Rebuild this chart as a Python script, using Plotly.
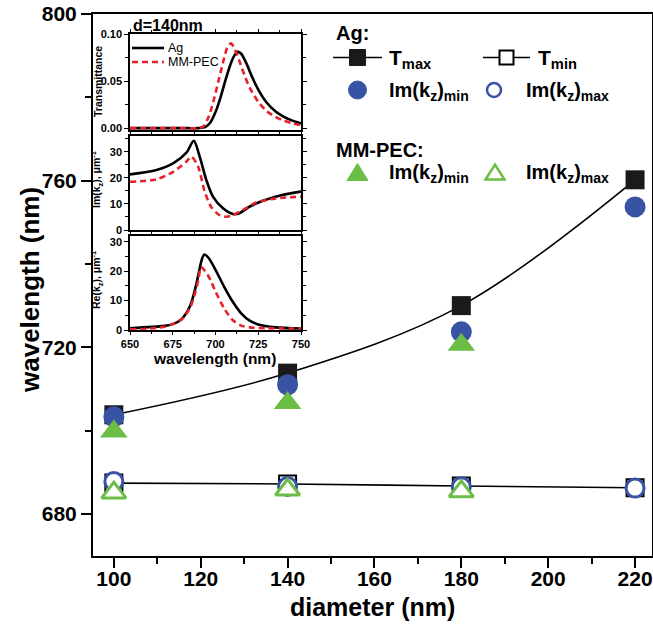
import plotly.graph_objects as go

W, H = 653, 627

# ---------------- main data ----------------
diameters = [100, 140, 180, 220]
ag_tmax = [703.8, 713.8, 730.0, 760.2]
ag_tmin = [687.4, 687.2, 686.7, 686.3]
ag_imk_min = [703.3, 711.0, 723.7, 753.7]
ag_imk_max = [687.8, 686.6, 686.5, 686.2]
pec_diam = [100, 140, 180]
pec_imk_min = [699.8, 706.6, 720.6]
pec_imk_max = [685.1, 685.8, 685.4]

x_ticks = [100, 120, 140, 160, 180, 200, 220]
y_ticks = [680, 720, 760, 800]

# ---------------- inset data (d = 140 nm) ----------------
tr_wl_ag = [650, 660, 670, 680, 690, 694, 697, 700, 703, 706, 709, 711, 713, 715, 718, 721, 725, 730, 735, 740, 745, 750]
tr_ag = [0.0, 0.0, 0.0, 0.0, 0.0, 0.001, 0.006, 0.017, 0.033, 0.052, 0.069, 0.077, 0.081, 0.079, 0.069, 0.056, 0.041, 0.027, 0.018, 0.012, 0.008, 0.005]
tr_wl_pec = [650, 660, 670, 680, 690, 693, 696, 699, 702, 705, 707, 709, 711, 714, 717, 720, 725, 730, 735, 740, 745, 750]
tr_pec = [0.0, 0.0, 0.0, 0.0, 0.0, 0.002, 0.012, 0.030, 0.052, 0.074, 0.086, 0.090, 0.085, 0.071, 0.056, 0.043, 0.028, 0.018, 0.012, 0.008, 0.005, 0.003]

im_wl_ag = [650, 665.5, 675.2, 683, 687.3, 690.8, 694.7, 698.5, 704.4, 710.2, 714, 720, 727.7, 739, 750]
im_ag = [21.3, 23.0, 25.5, 29.6, 34.2, 28.0, 19.0, 12.8, 8.3, 6.1, 6.4, 9.0, 11.2, 13.4, 14.7]
im_wl_pec = [650, 665.5, 675.2, 683, 685.9, 689.8, 693.7, 697.6, 702.4, 706.3, 710, 716, 723.8, 735.4, 750]
im_pec = [18.5, 19.4, 22.3, 26.2, 28.1, 24.3, 14.7, 8.7, 5.7, 5.1, 5.7, 7.7, 10.5, 12.1, 12.8]

re_wl_ag = [650, 670, 675, 680, 685, 688, 690, 692, 693.5, 696, 700, 705, 710, 715, 720, 725, 735, 750]
re_ag = [0.6, 1.4, 2.0, 3.6, 8.0, 13.7, 18.8, 24.0, 25.7, 24.5, 20.5, 14.8, 9.7, 5.7, 3.2, 1.9, 0.9, 0.5]
re_wl_pec = [650, 670, 680, 685, 688, 690, 691.5, 694, 697, 700, 705, 710, 715, 720, 730, 750]
re_pec = [0.2, 1.1, 3.6, 7.4, 12.5, 17.1, 21.4, 20.0, 17.1, 13.1, 7.4, 3.4, 1.5, 0.9, 0.6, 0.5]

inset_x_ticks = [650, 675, 700, 725, 750]

BLUE = "#3953A4"
GREEN = "#6CBD45"
RED = "#E8202A"
FONT = "Liberation Sans"


def dx(a, b):
    return [a / W, b / W]


def dy(top, bottom):
    return [1 - bottom / H, 1 - top / H]


def px(x):
    return x / W


def py(y):
    return 1 - y / H


fig = go.Figure()

# ---------------- main traces ----------------
fig.add_trace(go.Scatter(x=diameters, y=ag_tmax, mode="lines+markers",
                         line=dict(color="black", width=1.6, shape="spline"),
                         marker=dict(symbol="square", size=19, color="#1a1a1a"),
                         xaxis="x", yaxis="y", showlegend=False))
fig.add_trace(go.Scatter(x=diameters, y=ag_tmin, mode="lines+markers",
                         line=dict(color="black", width=1.6, shape="spline"),
                         marker=dict(symbol="square", size=17, color="white",
                                     line=dict(color="black", width=2)),
                         xaxis="x", yaxis="y", showlegend=False))
fig.add_trace(go.Scatter(x=diameters, y=ag_imk_min, mode="markers",
                         marker=dict(symbol="circle", size=21, color=BLUE),
                         xaxis="x", yaxis="y", showlegend=False))
fig.add_trace(go.Scatter(x=diameters, y=ag_imk_max, mode="markers",
                         marker=dict(symbol="circle", size=18, color="white",
                                     line=dict(color=BLUE, width=3)),
                         xaxis="x", yaxis="y", showlegend=False))
fig.add_trace(go.Scatter(x=pec_diam, y=pec_imk_min, mode="markers",
                         marker=dict(symbol="triangle-up", size=24, color=GREEN),
                         xaxis="x", yaxis="y", showlegend=False))
fig.add_trace(go.Scatter(x=pec_diam, y=pec_imk_max, mode="markers",
                         marker=dict(symbol="triangle-up", size=21, color="white",
                                     line=dict(color=GREEN, width=3)),
                         xaxis="x", yaxis="y", showlegend=False))

# ---------------- inset traces ----------------
for (xa, ya, wl_a, va, wl_p, vp) in [
    ("x2", "y2", tr_wl_ag, tr_ag, tr_wl_pec, tr_pec),
    ("x3", "y3", im_wl_ag, im_ag, im_wl_pec, im_pec),
    ("x4", "y4", re_wl_ag, re_ag, re_wl_pec, re_pec),
]:
    fig.add_trace(go.Scatter(x=wl_a, y=va, mode="lines",
                             line=dict(color="black", width=2.6, shape="spline", smoothing=0.8),
                             xaxis=xa, yaxis=ya, showlegend=False))
    fig.add_trace(go.Scatter(x=wl_p, y=vp, mode="lines",
                             line=dict(color=RED, width=2.6, dash="6px,4px", shape="spline", smoothing=0.8),
                             xaxis=xa, yaxis=ya, showlegend=False))

main_tickfont = dict(family=FONT, size=21, color="black", weight="bold")
inset_tickfont = dict(family=FONT, size=11, color="black", weight="bold")

layout = dict(
    width=W, height=H,
    margin=dict(l=0, r=0, t=0, b=0, autoexpand=False),
    paper_bgcolor="white", plot_bgcolor="white",
    showlegend=False,
    xaxis=dict(domain=dx(93, 652), range=[95.2, 223.9], anchor="y", automargin=False,
               tickmode="array", tickvals=x_ticks, ticks="outside", ticklen=10, tickwidth=2,
               ticklabelstandoff=-7,
               tickcolor="black", showline=True, linewidth=2, linecolor="black", mirror=True,
               showgrid=False, zeroline=False, tickfont=main_tickfont,
               minor=dict(tickmode="array", tickvals=[110, 130, 150, 170, 190, 210],
                          ticks="outside", ticklen=6, tickwidth=2, tickcolor="black")),
    yaxis=dict(domain=dy(14, 556), range=[669.9, 800], anchor="x", automargin=False,
               tickmode="array", tickvals=y_ticks, ticks="outside", ticklen=10, tickwidth=2,
               tickcolor="black", showline=True, linewidth=2, linecolor="black", mirror=True,
               showgrid=False, zeroline=False, tickfont=main_tickfont,
               minor=dict(tickmode="array", tickvals=[700, 740, 780],
                          ticks="outside", ticklen=6, tickwidth=2, tickcolor="black")),
)

panels = [
    (2, (34, 130), [-0.002, 0.1], [0, 0.05, 0.1], ["0.00", "0.05", "0.10"], [0.025, 0.075]),
    (3, (136, 230), [0, 36], [0, 10, 20, 30], ["0", "10", "20", "30"], [5, 15, 25, 35]),
    (4, (236, 330), [0, 32], [0, 10, 20, 30], ["0", "10", "20", "30"], [5, 15, 25]),
]
for n, (top, bot), yr, tv, tt, mv in panels:
    layout[f"xaxis{n}"] = dict(
        domain=dx(130, 301), range=[650, 750], anchor=f"y{n}", automargin=False,
        tickmode="array", tickvals=inset_x_ticks, ticks="outside", ticklen=3, tickwidth=1.2,
        tickcolor="black", showline=True, linewidth=1.5, linecolor="black", mirror="ticks",
        showgrid=False, zeroline=False, showticklabels=(n == 4), tickfont=inset_tickfont,
        minor=dict(tickmode="array", tickvals=[662.5, 687.5, 712.5, 737.5],
                   ticks="outside", ticklen=2, tickwidth=1, tickcolor="black"))
    layout[f"yaxis{n}"] = dict(
        domain=dy(top, bot), range=yr, anchor=f"x{n}", automargin=False,
        tickmode="array", tickvals=tv, ticktext=tt, ticks="outside", ticklen=4, tickwidth=1.2,
        tickcolor="black", showline=True, linewidth=1.5, linecolor="black", mirror="ticks",
        showgrid=False, zeroline=False, tickfont=inset_tickfont,
        minor=dict(tickmode="array", tickvals=mv, ticks="outside", ticklen=3,
                   tickwidth=1, tickcolor="black"))

fig.update_layout(**layout)

# ---------------- annotations ----------------
ann = []


def text(x, y, s, size, bold=True, xanchor="left", yanchor="middle", angle=0, color="black"):
    ann.append(dict(x=px(x), y=py(y), xref="paper", yref="paper", text=s, showarrow=False,
                    xanchor=xanchor, yanchor=yanchor, textangle=angle,
                    font=dict(family=FONT, size=size, color=color,
                              weight="bold" if bold else "normal")))


text(30, 290, "wavelength (nm)", 26, xanchor="center", angle=-90)
text(372, 607, "diameter (nm)", 25, xanchor="center")

# inset texts
text(131, 25, "d=140nm", 16)
text(214, 359, "wavelength (nm)", 15.5, xanchor="center")
text(98, 82, "Transmittance", 10.5, xanchor="center", angle=-90)
text(97, 180, "Im(k<sub>z</sub>), μm<sup>-1</sup>", 10.5, xanchor="center", angle=-90)
text(97, 280, "Re(k<sub>z</sub>), μm<sup>-1</sup>", 10.5, xanchor="center", angle=-90)
text(166, 48, "Ag", 12.5, bold=False)
text(166, 62, "MM-PEC", 12.5, bold=False)

# main legend texts
text(334, 33, "Ag:", 20)
text(387, 59, "T<sub>max</sub>", 21)
text(536, 59, "T<sub>min</sub>", 21)
text(387, 91, "Im(k<sub>z</sub>)<sub>min</sub>", 20)
text(524, 91, "Im(k<sub>z</sub>)<sub>max</sub>", 20)
text(334, 150, "MM-PEC:", 20)
text(387, 173, "Im(k<sub>z</sub>)<sub>min</sub>", 20)
text(524, 173, "Im(k<sub>z</sub>)<sub>max</sub>", 20)

fig.update_layout(annotations=ann)

# ---------------- legend glyphs (shapes) ----------------
shapes = []


def line(x0, y0, x1, y1, color, width, dash="solid"):
    shapes.append(dict(type="line", xref="paper", yref="paper", x0=px(x0), y0=py(y0),
                       x1=px(x1), y1=py(y1), line=dict(color=color, width=width, dash=dash)))


def rect(cx, cy, s, fill, lc, lw):
    shapes.append(dict(type="rect", xref="paper", yref="paper", x0=px(cx - s / 2), x1=px(cx + s / 2),
                       y0=py(cy + s / 2), y1=py(cy - s / 2), fillcolor=fill,
                       line=dict(color=lc, width=lw)))


def circ(cx, cy, d, fill, lc, lw):
    shapes.append(dict(type="circle", xref="paper", yref="paper", x0=px(cx - d / 2), x1=px(cx + d / 2),
                       y0=py(cy + d / 2), y1=py(cy - d / 2), fillcolor=fill,
                       line=dict(color=lc, width=lw)))


def tri(cx, cy, w, h, fill, lc, lw):
    path = (f"M {px(cx - w / 2)} {py(cy + h / 2)} L {px(cx + w / 2)} {py(cy + h / 2)} "
            f"L {px(cx)} {py(cy - h / 2)} Z")
    shapes.append(dict(type="path", xref="paper", yref="paper", path=path, fillcolor=fill,
                       line=dict(color=lc, width=lw)))


# inset legend
line(132, 48, 164, 48, "black", 2.6)
line(132, 62, 164, 62, RED, 2.6, dash="6px,4px")

# main legend
line(333, 57.5, 382, 57.5, "black", 1.6)
rect(357.5, 57.5, 16, "#1a1a1a", "#1a1a1a", 1)
line(483, 57.5, 530, 57.5, "black", 1.6)
rect(506.5, 57.5, 14, "white", "black", 2)
circ(357.5, 90, 18, BLUE, BLUE, 1)
circ(494, 90, 14, "white", BLUE, 2.5)
tri(357.5, 172, 21, 17, GREEN, GREEN, 1)
tri(495, 172, 19, 15, "white", GREEN, 2.5)

fig.update_layout(shapes=shapes)

fig.write_html("out.html", config={"displayModeBar": False},
               post_script="document.body.style.margin='0';document.body.style.padding='0';")
